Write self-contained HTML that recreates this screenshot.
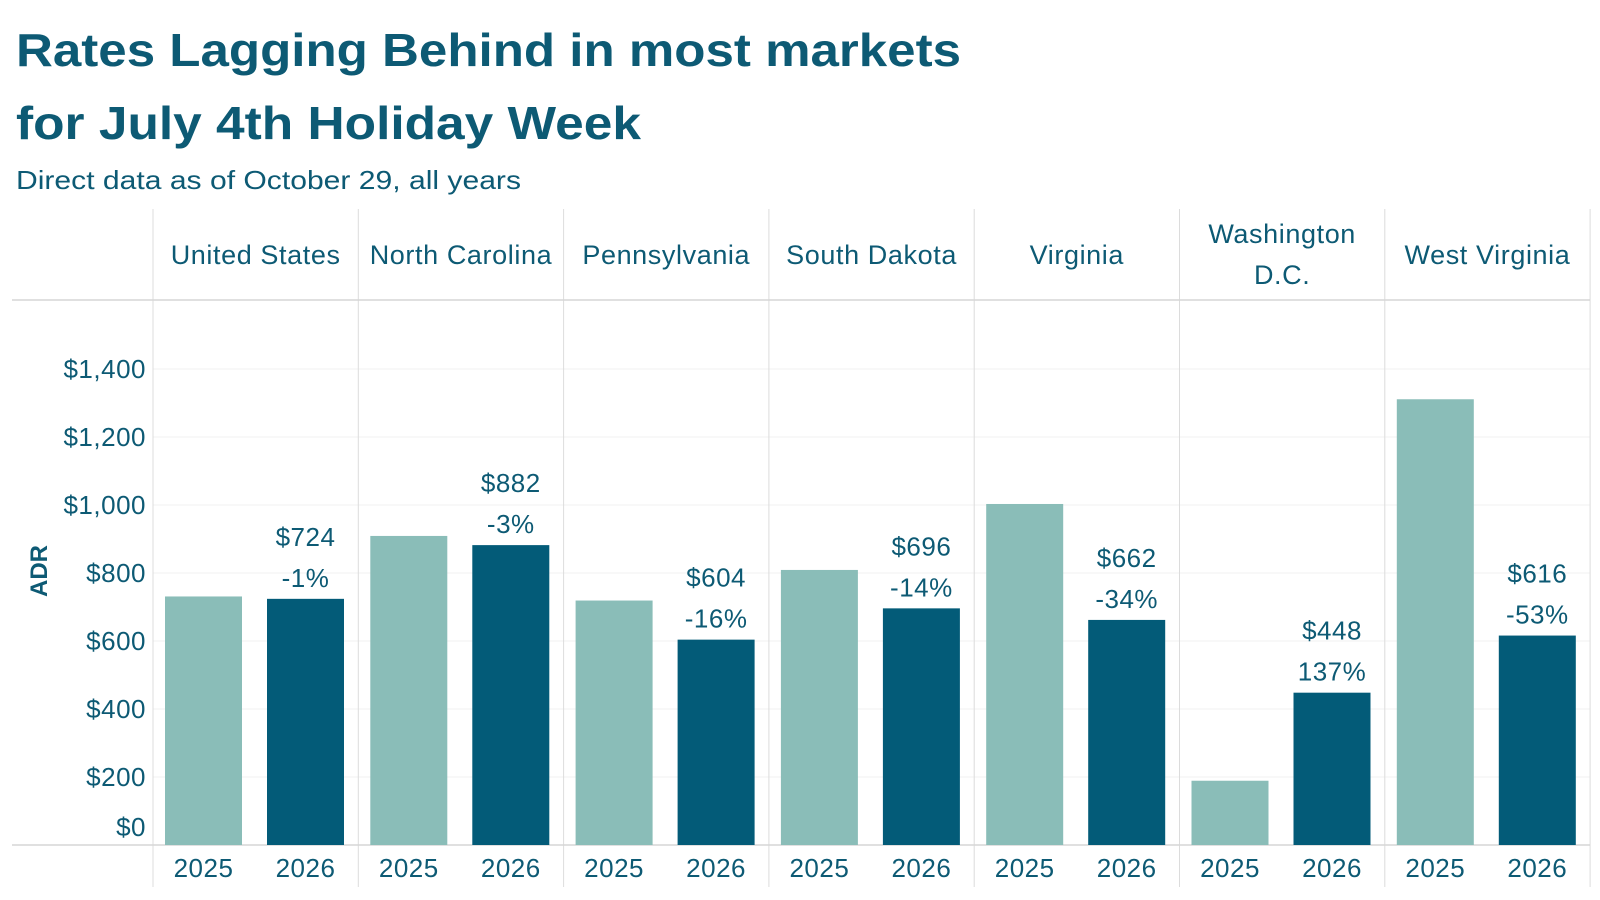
<!DOCTYPE html>
<html><head><meta charset="utf-8"><style>
html,body{margin:0;padding:0;background:#fff;width:1600px;height:900px;overflow:hidden}
svg text{font-family:"Liberation Sans",sans-serif;fill:#0d5a74}
</style></head><body>
<svg width="1600" height="900">
<text x="16" y="66" font-size="46" font-weight="bold" textLength="945" lengthAdjust="spacingAndGlyphs">Rates Lagging Behind in most markets</text>
<text x="16" y="139" font-size="46" font-weight="bold" textLength="625" lengthAdjust="spacingAndGlyphs">for July 4th Holiday Week</text>
<text x="16" y="189" font-size="26" textLength="505" lengthAdjust="spacingAndGlyphs">Direct data as of October 29, all years</text>
<text transform="translate(47,571) rotate(-90)" text-anchor="middle" font-size="24" font-weight="bold">ADR</text>
<g id="g"></g>
</svg>
<script>
const categories=["United States","North Carolina","Pennsylvania","South Dakota","Virginia","Washington|D.C.","West Virginia"];
const values2025=[731,909,719,809,1003,189,1311];
const values2026=[724,882,604,696,662,448,616];
const pctLabels=["-1%","-3%","-16%","-14%","-34%","137%","-53%"];
const yTicks=[0,200,400,600,800,1000,1200,1400];
const NS="http://www.w3.org/2000/svg",g=document.getElementById('g');
const x0=153,cw=205.3,base=845,k=0.34;
const y=v=>base-v*k;
function el(t,a,txt){const e=document.createElementNS(NS,t);for(const n in a)e.setAttribute(n,a[n]);if(txt!=null)e.textContent=txt;g.appendChild(e);return e;}
yTicks.forEach(t=>{if(t>0){const l=el('line',{x1:x0,x2:1590,y1:y(t),y2:y(t),stroke:'#f1f1f1','stroke-width':1});

}
const tx=el('text',{x:146,y:(t===0?y(t)-18:y(t))+9,'text-anchor':'end','font-size':26,'letter-spacing':0.5},'$'+t.toLocaleString('en-US'));

});
for(let i=0;i<=categories.length;i++){const x=x0+i*cw;const l=el('line',{x1:x,x2:x,y1:209,y2:887,stroke:'#dcdcdc','stroke-width':1});

}
[300,845].forEach(yy=>{const l=el('line',{x1:12,x2:1590,y1:yy,y2:yy,stroke:'#d6d6d6','stroke-width':1.5});

});
categories.forEach((c,i)=>{const cx=x0+i*cw+cw/2;const parts=c.split('|');
parts.forEach((p,j)=>{const t=el('text',{x:cx,y:(parts.length>1?243+j*41:264),'text-anchor':'middle','font-size':27,'letter-spacing':0.6},p);

});
const bx=x0+i*cw;
const b1=el('rect',{x:bx+12,y:y(values2025[i]),width:77,height:values2025[i]*k,fill:'#8abdb8'});


const b2=el('rect',{x:bx+114,y:y(values2026[i]),width:77,height:values2026[i]*k,fill:'#035b78'});


const top=y(values2026[i]);
const v=el('text',{x:bx+152.5,y:top-53,'text-anchor':'middle','font-size':26,'letter-spacing':0.5},'$'+values2026[i]);


const p=el('text',{x:bx+152.5,y:top-12,'text-anchor':'middle','font-size':26,'letter-spacing':0.5},pctLabels[i]);


[['2025',bx+50.5],['2026',bx+152.5]].forEach(([yr,xx])=>{const t=el('text',{x:xx,y:877,'text-anchor':'middle','font-size':26,'letter-spacing':0.5},yr);

});
});
</script>
</body></html>
